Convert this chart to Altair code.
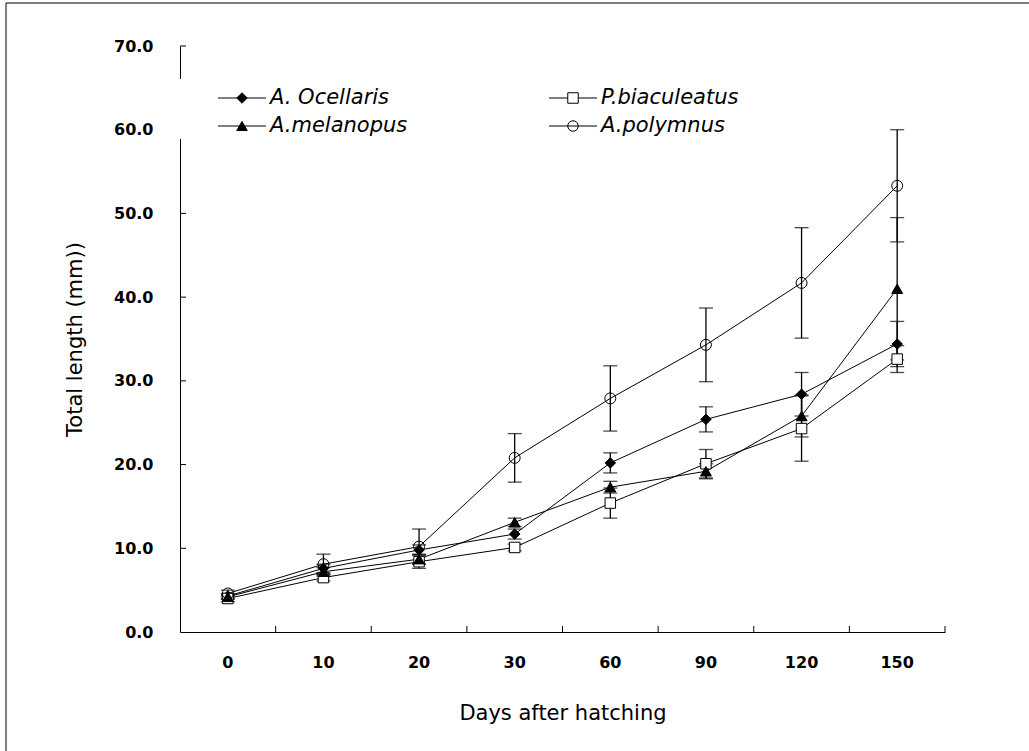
import altair as alt
import pandas as pd

# Sampling days (shown as evenly spaced categories)
days = ["0", "10", "20", "30", "60", "90", "120", "150"]

# Mean total length (mm) and standard deviation per species
ocellaris_mean = [4.3, 7.6, 9.8, 11.7, 20.2, 25.4, 28.4, 34.4]
ocellaris_sd = [0.3, 0.5, 0.6, 0.6, 1.2, 1.5, 2.6, 2.7]
biaculeatus_mean = [4.0, 6.5, 8.4, 10.1, 15.4, 20.1, 24.3, 32.6]
biaculeatus_sd = [0.4, 0.4, 0.8, 0.4, 1.8, 1.7, 3.9, 1.6]
melanopus_mean = [4.2, 7.2, 8.7, 13.1, 17.3, 19.2, 25.8, 41.0]
melanopus_sd = [0.3, 0.5, 0.6, 0.5, 0.7, 0.9, 2.5, 8.5]
polymnus_mean = [4.6, 8.1, 10.2, 20.8, 27.9, 34.3, 41.7, 53.3]
polymnus_sd = [0.4, 1.2, 2.1, 2.9, 3.9, 4.4, 6.6, 6.7]

species = ["A. Ocellaris", "P.biaculeatus", "A.melanopus", "A.polymnus"]
means = [ocellaris_mean, biaculeatus_mean, melanopus_mean, polymnus_mean]
sds = [ocellaris_sd, biaculeatus_sd, melanopus_sd, polymnus_sd]

# Marker style for each species
shapes = ["diamond", "square", "triangle-up", "circle"]
fills = ["black", "white", "black", "transparent"]
sizes = [110, 110, 120, 120]

# Legend grid (column, row) for each species
legend_col = [0, 1, 0, 1]
legend_row = [0, 0, 1, 1]

y_ticks = [10, 20, 30, 40, 50, 60, 70]

rows = []
for name, m_list, s_list in zip(species, means, sds):
    for d, m, s in zip(days, m_list, s_list):
        rows.append({"species": name, "day": d, "mean": m,
                     "lo": round(m - s, 2), "hi": round(m + s, 2)})
df = pd.DataFrame(rows)

W, H = 765, 586
FONT = "DejaVu Sans"

x_scale = alt.Scale(type="band", paddingInner=0, paddingOuter=0)
x_axis = alt.Axis(title="Days after hatching", labelAngle=0, ticks=False, tickSize=0,
                  grid=False, labelFont=FONT, labelFontWeight="bold", labelFontSize=16,
                  labelColor="black", labelPadding=22, titleFont=FONT,
                  titleFontWeight="normal", titleFontSize=21, titleColor="black",
                  titlePadding=32, domainColor="black", domainWidth=1)
y_scale = alt.Scale(domain=[0, 70], nice=False, zero=True)
y_axis = alt.Axis(title="Total length (mm))", values=[0, 10, 20, 30, 40, 50, 60, 70],
                  format=".1f", ticks=False, tickSize=0, grid=False, labelFont=FONT,
                  labelFontWeight="bold", labelFontSize=16, labelColor="black",
                  labelPadding=27, titleFont=FONT, titleFontWeight="normal",
                  titleFontSize=21, titleColor="black", titlePadding=28,
                  domainColor="black", domainWidth=1)


def xc(field="day", band=0.5):
    return alt.X(f"{field}:O", sort=days, bandPosition=band, scale=x_scale, axis=x_axis)


def yq(field):
    return alt.Y(f"{field}:Q", scale=y_scale, axis=y_axis)


base = alt.Chart(df)

lines = base.mark_line(color="black", strokeWidth=1).encode(
    x=xc(), y=yq("mean"), detail="species:N"
)
err_rule = base.mark_rule(color="black", strokeWidth=1.3).encode(
    x=xc(), y=yq("lo"), y2="hi"
)
cap_lo = base.mark_tick(orient="horizontal", size=14, thickness=1.3, color="black").encode(
    x=xc(), y=yq("lo")
)
cap_hi = base.mark_tick(orient="horizontal", size=14, thickness=1.3, color="black").encode(
    x=xc(), y=yq("hi")
)

markers = []
for name, shp, fl, sz in zip(species, shapes, fills, sizes):
    markers.append(
        alt.Chart(df).transform_filter(alt.datum.species == name)
        .mark_point(shape=shp, filled=True, fill=fl, stroke="black", strokeWidth=1,
                    size=sz, opacity=1, fillOpacity=1)
        .encode(x=xc(), y=yq("mean"))
    )

# Inward-pointing axis ticks
ytick_df = pd.DataFrame({"v": y_ticks})
y_tick_marks = alt.Chart(ytick_df).mark_rule(color="black", strokeWidth=1).encode(
    y=yq("v"), x=alt.value(0), x2=alt.value(6)
)
xtick_df = pd.DataFrame({"day": days[1:]})
x_tick_marks = alt.Chart(xtick_df).mark_rule(color="black", strokeWidth=1).encode(
    x=xc("day", 0), y=alt.value(H), y2=alt.value(H - 6)
)
xend_df = pd.DataFrame({"day": days[-1:]})
x_end_mark = alt.Chart(xend_df).mark_rule(color="black", strokeWidth=1).encode(
    x=xc("day", 1), y=alt.value(H), y2=alt.value(H - 6)
)

one = pd.DataFrame({"k": [0]})
legend_bg = alt.Chart(one).mark_rect(fill="white", stroke=None).encode(
    x=alt.value(-12), x2=alt.value(620), y=alt.value(33), y2=alt.value(93)
)
frame = alt.Chart(one).mark_rect(fillOpacity=0, stroke="black", strokeWidth=1).encode(
    x=alt.value(-174), x2=alt.value(870), y=alt.value(-43), y2=alt.value(730)
)

main = alt.layer(frame, lines, err_rule, cap_lo, cap_hi, *markers,
                 y_tick_marks, x_tick_marks, x_end_mark, legend_bg)

# Legend drawn as marks on its own pixel-mapped scales
leg_df = pd.DataFrame({"species": species, "col": legend_col, "row": legend_row})
lx = alt.X("col:Q", scale=alt.Scale(domain=[0, 1], range=[62, 393]), axis=None)
ly = alt.Y("row:Q", scale=alt.Scale(domain=[0, 1], range=[52, 80]), axis=None)
leg_base = alt.Chart(leg_df)
leg_lines = leg_base.mark_rule(color="black", strokeWidth=1, xOffset=-24, x2Offset=24).encode(
    x=lx, x2="col", y=ly
)
leg_marks = leg_base.mark_point(filled=True, stroke="black", strokeWidth=1, size=110,
                                opacity=1, fillOpacity=1).encode(
    x=lx, y=ly,
    shape=alt.Shape("species:N", scale=alt.Scale(domain=species, range=shapes), legend=None),
    fill=alt.Fill("species:N", scale=alt.Scale(domain=species, range=fills), legend=None),
)
leg_text = leg_base.mark_text(align="left", baseline="middle", dx=28, font=FONT,
                              fontStyle="italic", fontSize=21, color="black").encode(
    x=lx, y=ly, text="species:N"
)
legend = alt.layer(leg_lines, leg_marks, leg_text)

chart = (
    alt.layer(main, legend)
    .resolve_scale(x="independent", y="independent", shape="independent", fill="independent")
    .properties(width=W, height=H, autosize=alt.AutoSizeParams(type="none"),
                padding={"left": 180, "top": 46, "right": 84, "bottom": 119},
                background="white")
    .configure_view(stroke=None)
)

chart.save("out.html", embed_options={"renderer": "svg", "actions": False})
